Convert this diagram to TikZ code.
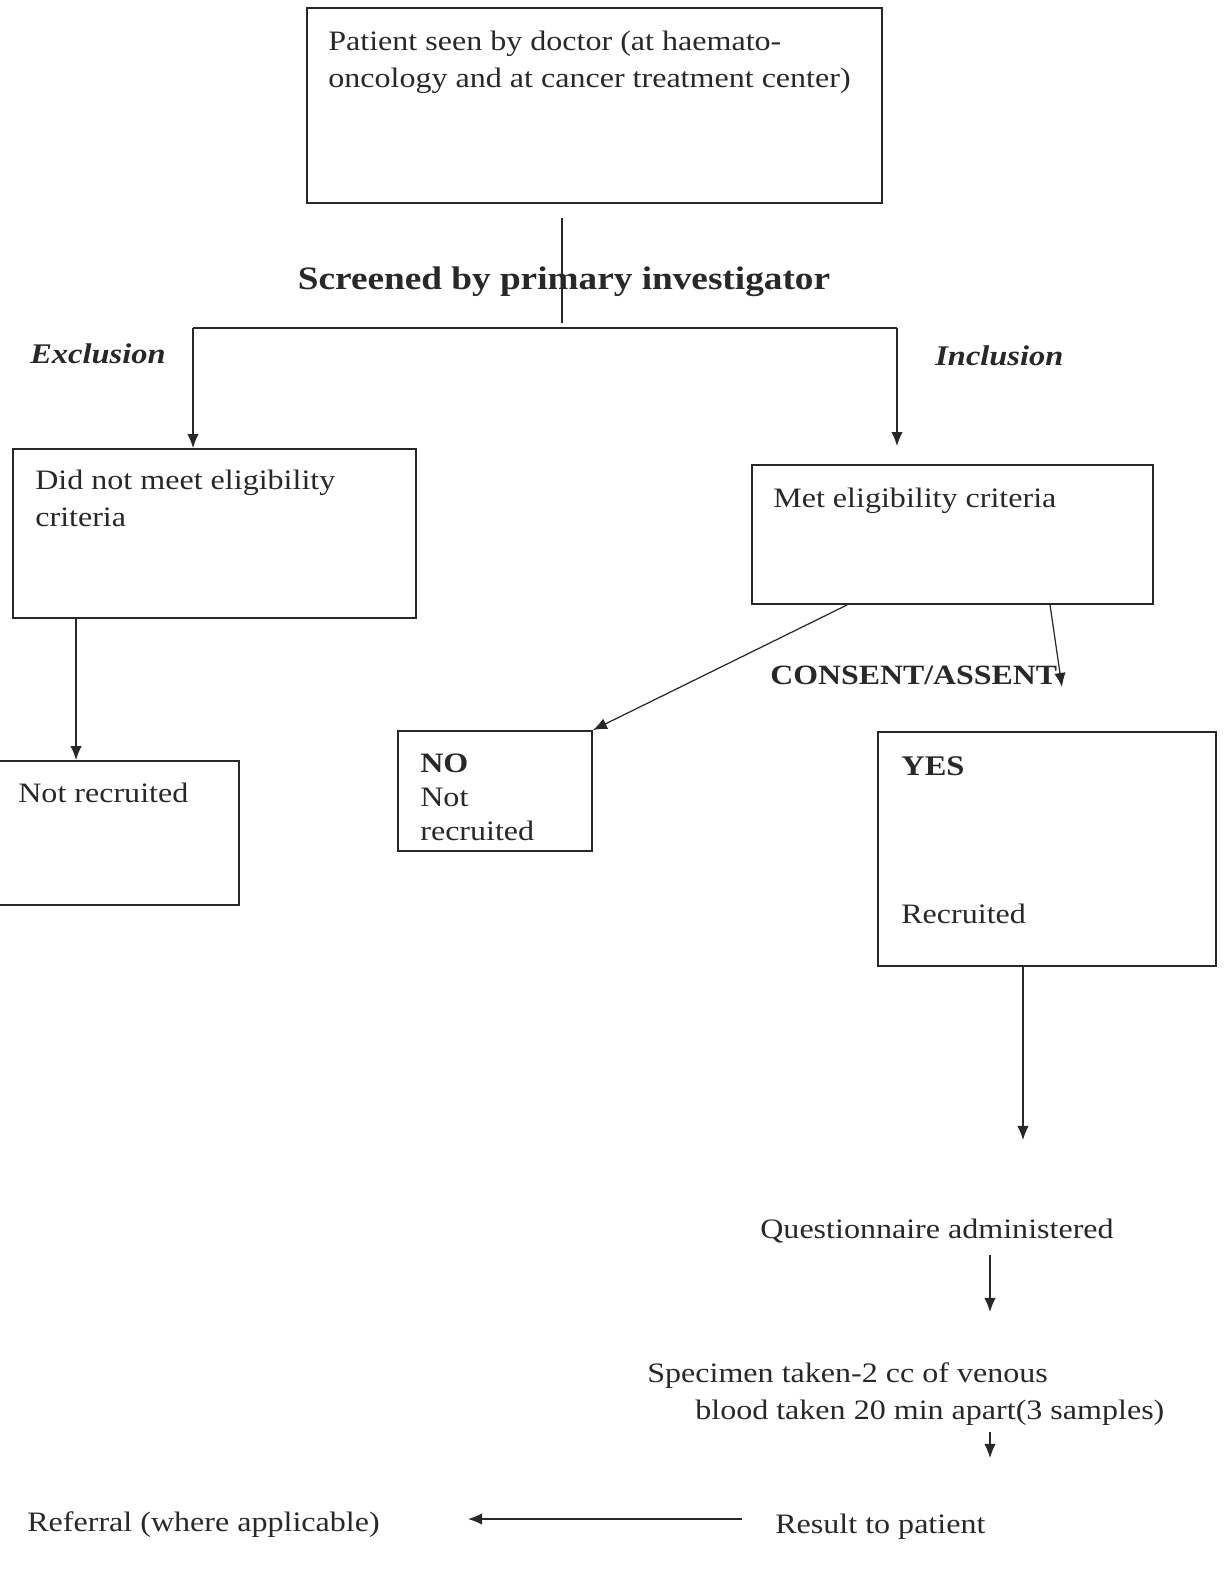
\documentclass[tikz,border=0pt]{standalone}
\usepackage{fontspec}
\setmainfont{Liberation Serif}[FakeStretch=1.14]
\usetikzlibrary{arrows.meta}

\definecolor{ink}{RGB}{40,40,40}
\tikzset{
  box/.style={draw=ink, line width=1.1pt, inner sep=0pt},
  txt/.style={text=ink, inner sep=0pt, anchor=base west, align=left,
    font=\fontsize{16}{21}\selectfont},
  head/.style={txt, font=\fontsize{16.2}{21}\selectfont\bfseries},
  link/.style={draw=ink, line width=0.7pt},
  arrow/.style={link, -{Latex[length=8pt,width=6.5pt]}}
}

\begin{document}
\begin{tikzpicture}[x=0.02cm, y=-0.02cm]
  \useasboundingbox (0,0) rectangle (1228,1572);
  % boxes
  \node[box, minimum width=11.5cm, minimum height=3.9cm] (seen) at (594.5,105.5) {};
  \node[box, minimum width=8.06cm, minimum height=3.38cm] (nomeet) at (214.5,533.5) {};
  \node[box, minimum width=8.02cm, minimum height=2.78cm] (met) at (952.5,534.5) {};
  \node[box, minimum width=5.18cm, minimum height=2.88cm] (notrec) at (109.5,833) {};
  \node[box, minimum width=3.88cm, minimum height=2.4cm] (no) at (495,791) {};
  \node[box, minimum width=6.76cm, minimum height=4.68cm] (yes) at (1047,849) {};

  % texts (base = last line)
  \node[txt] (seentxt) at (328,87) {Patient seen by doctor (at haemato-\\oncology and at cancer treatment center)};
  \node[head, anchor=base, font=\fontsize{18.6}{21}\selectfont\bfseries] (screen) at (564,289) {Screened by primary investigator};
  \node[head, font=\fontsize{16.2}{21}\selectfont\bfseries\itshape] (exc) at (30,363) {Exclusion};
  \node[head, font=\fontsize{16.2}{21}\selectfont\bfseries\itshape] (inc) at (935,365) {Inclusion};
  \node[txt] (nomeettxt) at (35,526) {Did not meet eligibility\\criteria};
  \node[txt] (mettxt) at (773,507) {Met eligibility criteria};
  \node[txt] (notrectxt) at (18,802) {Not recruited};
  \node[head, font=\fontsize{15.9}{21}\selectfont\bfseries] (cons) at (770,684) {CONSENT/ASSENT};
  \node[txt, font=\fontsize{16}{19.3}\selectfont] (notxt) at (420,840) {\textbf{NO}\\Not\\recruited};
  \node[head] (yestxt) at (901,775) {YES};
  \node[txt] (yesrec) at (901,923) {Recruited};
  \node[txt] (quest) at (760,1238) {Questionnaire administered};
  \node[txt] (spec) at (647,1419) {Specimen taken-2 cc of venous\\\hspace*{0.96cm}blood taken 20 min apart(3 samples)};
  \node[txt] (result) at (775,1533) {Result to patient};
  \node[txt] (referral) at (27,1531) {Referral (where applicable)};

  % free ends
  \coordinate (top) at (562,218);
  \coordinate (split) at (562,323);
  \coordinate (excl) at (193,328);
  \coordinate (incl) at (897,328);
  \coordinate (c1) at (1062,687);
  \coordinate (q1) at (1023,1140);
  \coordinate (s1) at (990,1312);
  \coordinate (r1) at (990,1458);
  \coordinate (f1) at (468,1519);

  % connectors
  \draw[link] (top) -- (split);
  \draw[link] (excl) -- (incl);
  \draw[arrow] (excl) -- (excl |- nomeet.north);
  \draw[arrow] (incl) -- ([yshift=0.36cm]incl |- met.north);
  \draw[arrow] ([xshift=1.28cm]nomeet.south west) -- ([xshift=1.28cm]nomeet.south west |- notrec.north);
  \draw[arrow] ([xshift=1.92cm]met.south west) -- (no.north east);
  \draw[arrow] ([xshift=5.98cm]met.south west) -- (c1);
  \draw[arrow] (q1 |- yes.south) -- (q1);
  \draw[arrow] ([yshift=-0.24cm]s1 |- quest.south) -- (s1);
  \draw[arrow] ([yshift=-0.14cm]r1 |- spec.south) -- (r1);
  \draw[arrow] ([xshift=-0.66cm]result.west |- f1) -- (f1);
\end{tikzpicture}
\end{document}
